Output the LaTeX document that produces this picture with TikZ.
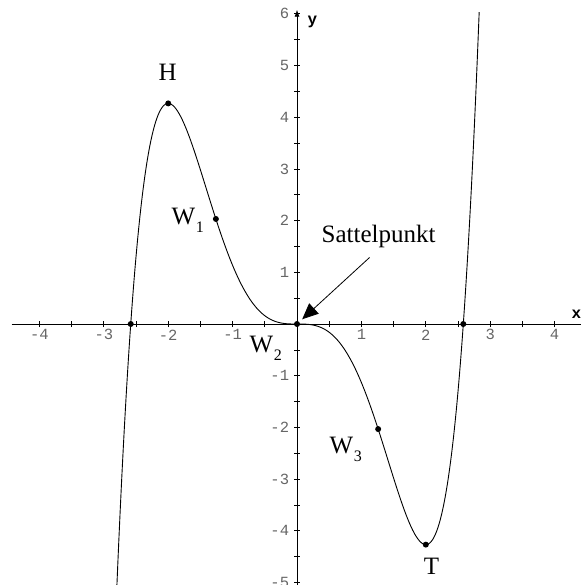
\documentclass[tikz,border=0pt]{standalone}
\usepackage{fontspec}
\setmainfont{Liberation Serif}
\newfontfamily\tickfont{Liberation Mono}
\usetikzlibrary{arrows.meta}

\definecolor{tickgrau}{gray}{0.4}
\newcommand{\Wlab}[1]{W\kern0.5pt\raisebox{-8pt}{\fontsize{16}{16}\selectfont #1}}

\begin{document}
\begin{tikzpicture}[x=64.4pt, y=51.7pt,
  punkt/.style={circle, fill=black, inner sep=0pt, minimum size=6pt},
  lab/.style={font=\fontsize{25}{25}\selectfont, inner sep=0pt},
  zahl/.style={font=\tickfont\fontsize{15.5}{15.5}\selectfont, text=tickgrau, inner sep=0pt},
  achse/.style={font=\tickfont\bfseries\fontsize{16}{16}\selectfont, inner sep=0pt}]
  \useasboundingbox (-4.612,-5.048) rectangle (4.410,6.267);

  % 坐标轴
  \draw[line width=0.8pt] (-4.43,0) -- (4.41,0);
  \draw[line width=0.8pt, -{Latex[length=7pt,width=5pt]}] (0,-5.1) -- (0,6.08);
  \foreach \t in {-4,-3.5,...,4} \draw[line width=0.7pt] (\t,0) ++(0,-3pt) -- ++(0,6pt);
  \foreach \t in {-5,-4.5,...,6} \draw[line width=0.7pt] (0,\t) ++(-3pt,0) -- ++(6pt,0);
  \foreach \t in {-4,-3,-2,-1,1,2,3,4} \node[zahl] (zx\t) at (\t,-0.21) {\t};
  \foreach \t in {-5,-4,-3,-2,-1,1,2,3,4,5,6} \node[zahl, anchor=east] (zy\t) at (-0.12,\t) {\t};
  \node[achse] (xlab) at (4.34,0.18) {x};
  \node[achse] (ylab) at (0.24,5.85) {y};

  % 函数图像
  \draw[line width=0.9pt, domain=-2.797:2.829, samples=300, smooth]
    plot (\x, {(3*\x*\x*\x*\x*\x - 20*\x*\x*\x)/15});

  % 特殊点
  \coordinate (N1) at (-2.582,0);
  \coordinate (S) at (0,0);
  \coordinate (N2) at (2.582,0);
  \coordinate (H) at (-2,4.267);
  \coordinate (T) at (2,-4.267);
  \coordinate (W1) at (-1.26,2.032);
  \coordinate (W3) at (1.26,-2.032);
  \foreach \p in {N1,S,N2,H,T,W1,W3} \node[punkt] (dot\p) at (\p) {};

  \node[lab, anchor=base] (labH) at (-2.01,4.716) {H};
  \node[lab, anchor=base] (labT) at (2.09,-4.845) {T};
  \node[lab, anchor=base west] (labW1) at (-1.949,1.925) {\Wlab{1}};
  \node[lab, anchor=base west] (labW2) at (-0.738,-0.55) {\Wlab{2}};
  \node[lab, anchor=base west] (labW3) at (0.505,-2.505) {\Wlab{3}};
  \node[lab, anchor=base west] (sattel) at (0.38,1.576) {Sattelpunkt};

  % 指向鞍点的箭头
  \coordinate (pfeil) at (1.126,1.286);
  \draw[line width=0.8pt, -{Triangle[length=16pt,width=14pt]}, shorten >=7pt] (pfeil) -- (S);
\end{tikzpicture}
\end{document}
